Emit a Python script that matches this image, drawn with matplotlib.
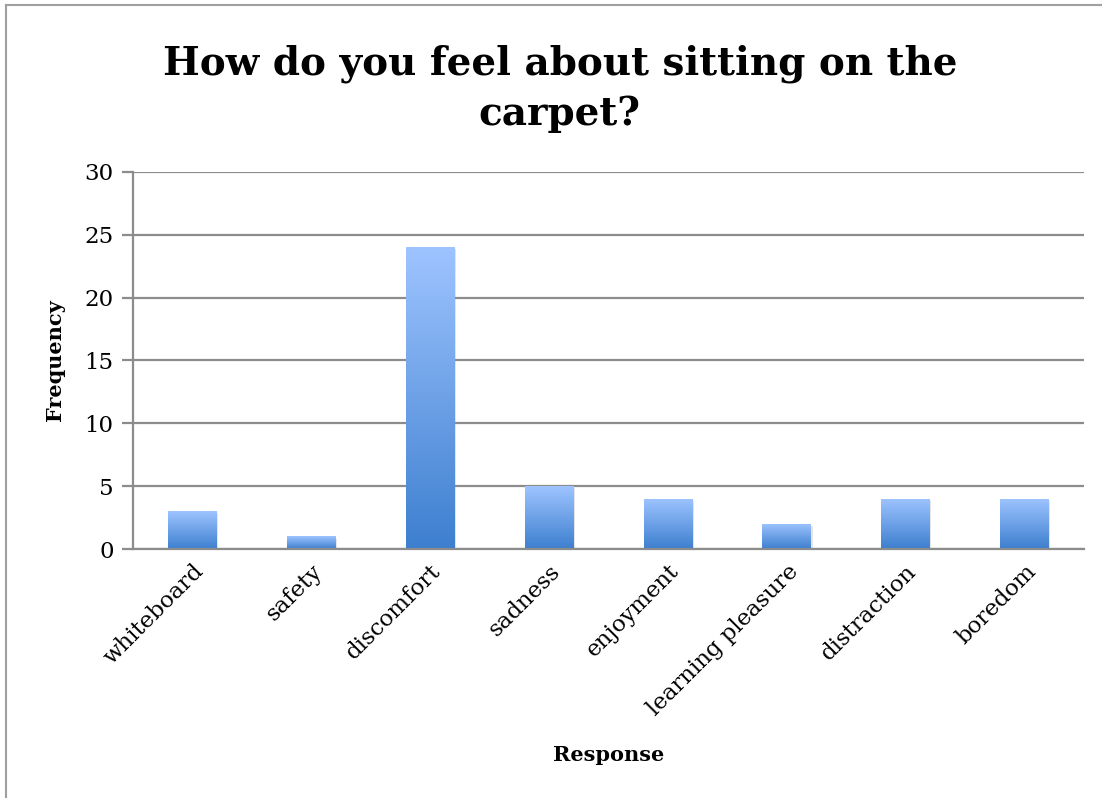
import matplotlib
matplotlib.use("Agg")
import matplotlib.pyplot as plt
import matplotlib.patheffects as pe
from matplotlib.colors import LinearSegmentedColormap
from matplotlib.lines import Line2D
import numpy as np

categories = ['whiteboard', 'safety', 'discomfort', 'sadness', 'enjoyment',
              'learning pleasure', 'distraction', 'boredom']
frequency = [3, 1, 24, 5, 4, 2, 4, 4]
yticks = [0, 5, 10, 15, 20, 25, 30]

plt.rcParams['font.family'] = ['DejaVu Serif']

fig = plt.figure(figsize=(11.02, 7.98), dpi=100)
ax = fig.add_axes([0.1207, 0.312, 0.863, 0.4725])

# light frame around the chart (only left and top edges show)
fx, fy = 6 / 1102, 1 - 5 / 798
fig.add_artist(Line2D([fx, fx], [-0.01, fy], transform=fig.transFigure, color='#a0a0a0', lw=1.5))
fig.add_artist(Line2D([fx, 1.01], [fy, fy], transform=fig.transFigure, color='#a0a0a0', lw=1.5))

grad = LinearSegmentedColormap.from_list('blue', ['#3d7fcf', '#9ec4ff'])
gradient = np.linspace(0, 1, 256).reshape(-1, 1)

x = np.arange(len(categories))
bars = ax.bar(x, frequency, width=0.41, color='#6aa0e8', zorder=3,
              path_effects=[pe.SimplePatchShadow(offset=(1, -1.5), shadow_rgbFace='#999999', alpha=0.25),
                            pe.Normal()])
for b in bars:
    im = ax.imshow(gradient, extent=(b.get_x(), b.get_x() + b.get_width(), 0, b.get_height()),
                   origin='lower', aspect='auto', cmap=grad, zorder=4)
    im.set_clip_path(b)

ax.set_xlim(-0.5, len(categories) - 0.5)
ax.set_ylim(0, 30)
ax.set_yticks(yticks)
ax.grid(axis='y', color='#8c8c8c', linewidth=1.6, zorder=0)
ax.set_axisbelow(True)

for s in ['top', 'right']:
    ax.spines[s].set_visible(False)
for s in ['left', 'bottom']:
    ax.spines[s].set_color('#8c8c8c')
    ax.spines[s].set_linewidth(1.6)
    ax.spines[s].set_zorder(5)

ax.tick_params(axis='y', length=8, width=1.6, color='#8c8c8c', labelsize=16.5, pad=6)
ax.tick_params(axis='x', length=0, labelsize=16.5, pad=8)
ax.set_xticks(x)
ax.set_xticklabels(categories, rotation=45, ha='right', rotation_mode='anchor')

ax.set_ylabel('Frequency', fontsize=15, fontweight='bold', labelpad=14)
fig.text(0.552, 0.054, 'Response', fontsize=15, fontweight='bold', ha='center', va='center')
fig.text(0.508, 0.889, 'How do you feel about sitting on the\ncarpet?', fontsize=28,
         fontweight='bold', ha='center', va='center', linespacing=1.42)

fig.savefig('out.png', dpi=100)
